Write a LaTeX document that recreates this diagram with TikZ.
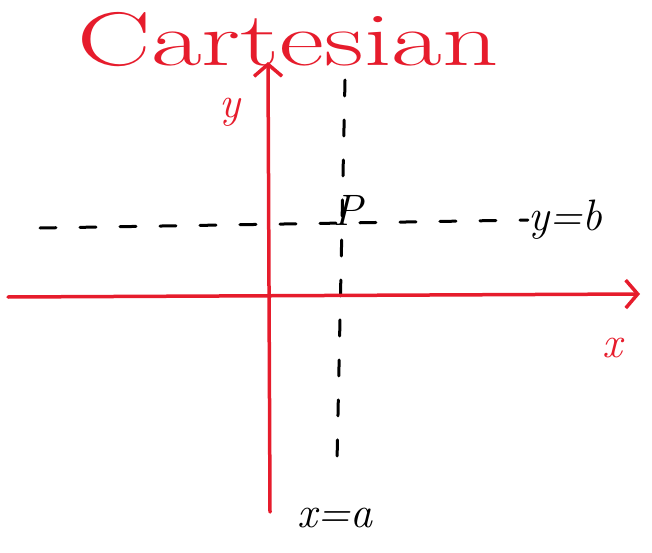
\documentclass[tikz,border=0pt]{standalone}
\usetikzlibrary{arrows.meta}
\definecolor{penred}{RGB}{230,28,44}
\begin{document}
\begin{tikzpicture}[x=1pt, y=-1pt,
  redpen/.style={draw=penred, line width=3.5pt, line cap=round},
  blackpen/.style={draw=black, line width=3pt, line cap=round, dash pattern=on 16pt off 24pt},
  axisarr/.style={-{Straight Barb[length=12pt, width=28pt]}},
  lbl/.style={font=\fontsize{44}{44}\selectfont\itshape, inner sep=0pt}
]
  \useasboundingbox (0,0) rectangle (652,553);
  % title and axis labels
  \node[text=penred, font=\fontsize{76}{76}\selectfont, inner sep=0pt, xscale=1.45] (title) at (288,40) {Cartesian};
  \node[lbl, text=penred] (ylbl) at (230,112) {y};
  \node[lbl, text=penred] (xlbl) at (612,348) {x};
  \node[lbl] (P) at (348,210) {P};
  \node[lbl] (yb) at (565,220) {y=b};
  \node[lbl] (xa) at (335,518) {x=a};
  % ends of the lines
  \coordinate (xstart) at (8,297);
  \coordinate (xend) at (640,294);
  \coordinate (ystart) at (270,512);
  \coordinate (yend) at (268,62);
  \coordinate (hstart) at (40,228);
  \coordinate (vtop) at (345,80);
  \coordinate (vbot) at (337,462);

  \draw[blackpen] (hstart) -- (yb.west);
  \draw[blackpen] (vtop) -- (vbot);
  \draw[redpen, axisarr] (xstart) -- (xend);
  \draw[redpen, axisarr] (ystart) -- (yend);
\end{tikzpicture}
\end{document}
